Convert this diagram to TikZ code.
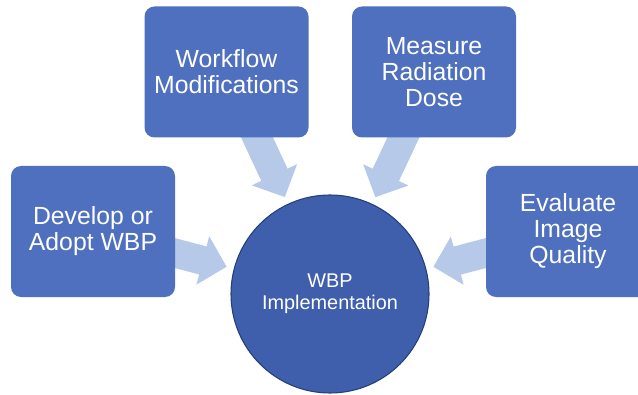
\documentclass[tikz,border=0pt]{standalone}
\usepackage{fontspec}
\setmainfont{Liberation Sans}
\usetikzlibrary{arrows.meta,backgrounds}

\definecolor{boxblue}{HTML}{4E70BE}
\definecolor{hubblue}{HTML}{3F5FAD}
\definecolor{hubline}{HTML}{233F78}
\definecolor{feedblue}{HTML}{B7C9E8}

\begin{document}
\begin{tikzpicture}[
	x = 0.75pt,
	y = -0.75pt,
	box/.style = {
		fill = boxblue,
		rounded corners = 7.5pt,
		minimum width = 123pt,
		minimum height = 98.25pt,
		text = white,
		align = center,
		font = \fontsize{18.6}{19.5}\selectfont
	},
	hub/.style = {
		circle,
		fill = hubblue,
		draw = hubline,
		line width = 0.8pt,
		minimum size = 148.5pt,
		inner sep = 0pt,
		text = white,
		align = center,
		font = \fontsize{14.9}{16.5}\selectfont
	},
	feed/.style = {
		draw = feedblue,
		line width = 21.75pt,
		-{Triangle[length = 18.5pt, width = 36.4pt]},
		shorten < = -6pt,
		shorten > = 5.5pt
	}
	]
	\useasboundingbox (0,0) rectangle (638,395);

	\node[hub] (wbp) at (330,294) {WBP\\Implementation};
	\node[box] (develop) at (93,231.5) {Develop or\\Adopt WBP};
	\node[box] (workflow) at (226.5,72) {Workflow\\Modifications};
	\node[box] (dose) at (434,72) {Measure\\Radiation\\Dose};
	\node[box] (quality) at (568,231.5) {Evaluate\\Image\\Quality};

	\begin{pgfonlayer}{background}
		\draw[feed] (develop) -- (wbp);
		\draw[feed] (workflow) -- (wbp);
		\draw[feed] (dose) -- (wbp);
		\draw[feed] (quality) -- (wbp);
	\end{pgfonlayer}
\end{tikzpicture}
\end{document}
